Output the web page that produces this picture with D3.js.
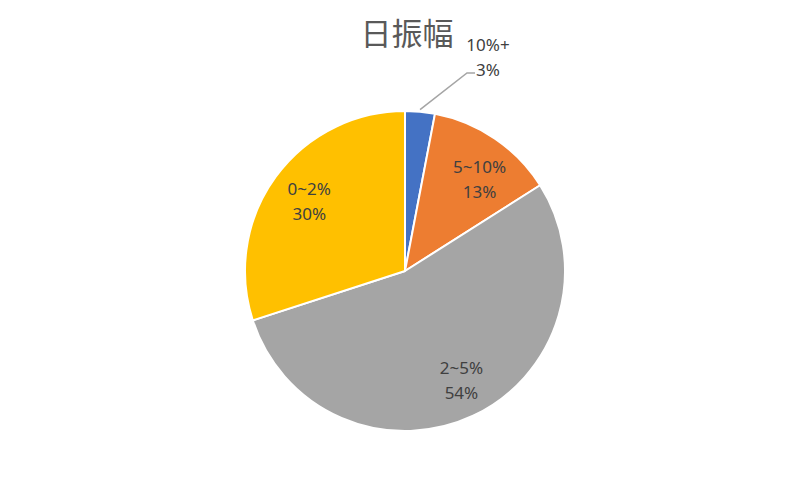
<!DOCTYPE html>
<html>
<head>
<meta charset="utf-8">
<script src="https://cdn.jsdelivr.net/npm/d3@7"></script>
<style>
  body { margin: 0; background: #fff; }
  svg { display: block; }
</style>
</head>
<body>
<svg id="chart" width="810" height="479"></svg>
<script>
// slice data, clockwise from 12 o'clock
const categories = ["10%+", "5~10%", "2~5%", "0~2%"];
const values = [3, 13, 54, 30];
const colors = ["#4472C4", "#ED7D31", "#A5A5A5", "#FFC000"];
const title = "日振幅";

const width = 810, height = 479;
const cx = 405, cy = 271, radius = 160;

const svg = d3.select("#chart");

svg.append("text")
    .attr("x", 407)
    .attr("y", 45)
    .attr("text-anchor", "middle")
    .attr("fill", "#595959")
    .style("font-family", "'Noto Sans CJK SC', sans-serif")
    .style("font-size", "31px")
    .text(title);

const data = categories.map((c, i) => ({ label: c, value: values[i], color: colors[i] }));

const pie = d3.pie().sort(null).value(d => d.value);
const arcs = pie(data);

const arc = d3.arc().innerRadius(0).outerRadius(radius);
const labelArc = d3.arc().innerRadius(radius * 0.74).outerRadius(radius * 0.74);
const edgeArc = d3.arc().innerRadius(radius).outerRadius(radius);

const g = svg.append("g").attr("transform", `translate(${cx},${cy})`);

g.selectAll("path.slice")
    .data(arcs)
    .enter()
    .append("path")
    .attr("class", "slice")
    .attr("d", arc)
    .attr("fill", d => d.data.color)
    .attr("stroke", "#fff")
    .attr("stroke-width", 2)
    .attr("stroke-linejoin", "round");

const fmt = v => Math.round(v) + "%";
const total = d3.sum(values);

// small slice gets an outside label with a leader line
const outside = d => d.data.value / total < 0.05;

const lab = g.selectAll("g.lab")
    .data(arcs)
    .enter()
    .append("g")
    .attr("class", "lab")
    .attr("transform", d => {
        if (outside(d)) return "translate(83,-214)";
        const [x, y] = labelArc.centroid(d);
        // nudge similar to excel best-fit placement
        return `translate(${x + (d.index === 1 ? 8 : d.index === 2 ? 6 : 0)},${y + (d.index === 1 ? 6 : d.index === 2 ? 2 : 0)})`;
    });

lab.append("text")
    .attr("text-anchor", "middle")
    .attr("fill", "#404040")
    .style("font-family", "'Noto Sans', 'Noto Sans CJK SC', sans-serif")
    .style("font-size", "17px")
    .selectAll("tspan")
    .data(d => [d.data.label, fmt(d.data.value / total * 100)])
    .enter()
    .append("tspan")
    .attr("x", 0)
    .attr("y", (d, i) => i === 0 ? -6 : 19)
    .text(d => d);

arcs.filter(outside).forEach(d => {
    const [ex, ey] = edgeArc.centroid(d);
    g.append("polyline")
        .attr("points", [[ex, ey - 2], [62, -198], [70, -198]].map(p => p.join(",")).join(" "))
        .attr("fill", "none")
        .attr("stroke", "#A5A5A5")
        .attr("stroke-width", 1.5);
});
</script>
</body>
</html>
